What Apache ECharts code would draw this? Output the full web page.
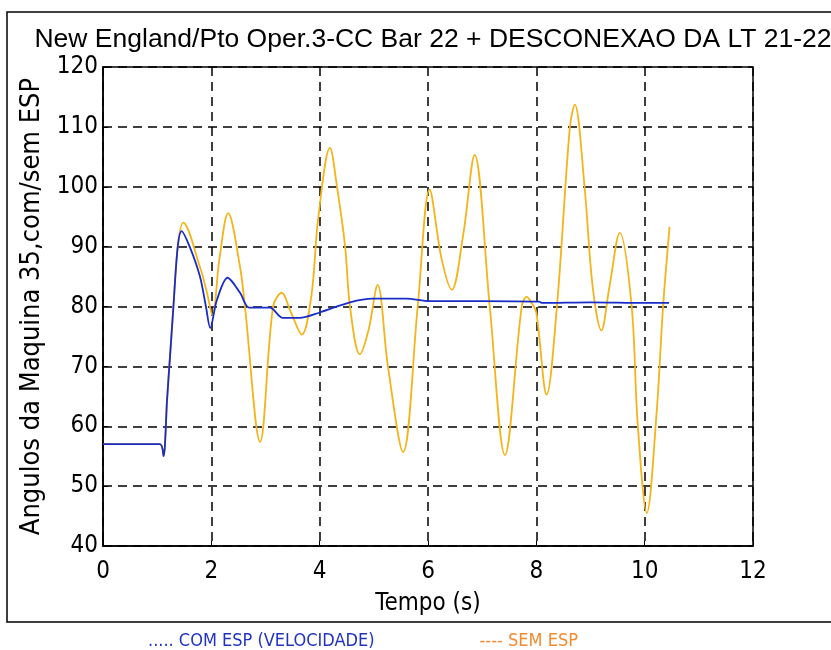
<!DOCTYPE html>
<html><head><meta charset="utf-8">
<script src="https://cdn.jsdelivr.net/npm/echarts@6/dist/echarts.min.js"></script>
<style>html,body{margin:0;padding:0;background:#fff}#c{width:831px;height:650px}</style>
</head><body><div id="c"></div>
<script>
const titleText = 'New England/Pto Oper.3-CC Bar 22 + DESCONEXAO DA LT 21-22';
const xName = 'Tempo (s)';
const yName = 'Angulos da Maquina 35,com/sem ESP';
const seriesNames = ['COM ESP (VELOCIDADE)', 'SEM ESP'];

const tCom = [0, 1.05, 1.12, 1.15, 1.18, 1.24, 1.3, 1.38, 1.45, 1.6, 1.79, 1.9, 1.98, 2.1, 2.3, 2.53, 2.7, 3.08, 3.32, 3.63, 4.0, 4.56, 4.98, 5.6, 6.03, 7.0, 8.05, 8.1, 9.0, 10.0, 10.45];
const vCom = [57, 57, 55, 58, 64, 72, 80, 90, 92.6, 90, 85, 80, 76.4, 81, 84.8, 82.3, 79.8, 79.8, 78.1, 78.1, 79, 80.7, 81.3, 81.3, 80.9, 80.9, 80.8, 80.6, 80.7, 80.6, 80.6];

const tSem = [0, 1.05, 1.12, 1.15, 1.18, 1.24, 1.3, 1.38, 1.48, 1.79, 1.92, 2.02, 2.15, 2.31, 2.53, 2.62, 2.9, 3.14, 3.3, 3.47, 3.67, 3.85, 3.97, 4.19, 4.32, 4.47, 4.56, 4.74, 4.9, 5.07, 5.26, 5.54, 5.81, 6.03, 6.25, 6.44, 6.65, 6.86, 7.14, 7.42, 7.73, 7.82, 7.92, 8.0, 8.19, 8.38, 8.62, 8.71, 8.89, 9.04, 9.2, 9.35, 9.54, 9.76, 9.87, 10.04, 10.22, 10.34, 10.46];
const vSem = [57, 57, 55, 58, 64, 72, 80, 90, 94, 86.6, 82.3, 78.5, 88, 95.6, 86.6, 80, 57.4, 80, 82.3, 79, 75.3, 82, 94.5, 106.5, 100, 90, 80, 72, 76, 83.6, 70, 55.7, 80, 99.5, 88, 82.8, 92, 105.3, 80, 55.2, 80, 81.6, 80.5, 79, 65.3, 80, 110, 113.7, 100, 83.3, 76, 83.3, 92.3, 80, 60.6, 45.5, 62.2, 80, 93.3];

const comData = tCom.map((t, i) => [t, vCom[i]]);
const semData = tSem.map((t, i) => [t, vSem[i]]);

const font = 'Liberation Sans, Arial, sans-serif';
const narrow = '"Liberation Sans Narrow", "Arial Narrow", "DejaVu Sans Condensed", sans-serif';
const chart = echarts.init(document.getElementById('c'), null, {renderer: 'canvas'});
chart.setOption({
  animation: false,
  backgroundColor: '#fff',
  title: {
    text: titleText, left: 428, top: 21, textAlign: 'center',
    textStyle: {fontFamily: font, fontSize: 26.5, fontWeight: 'normal', color: '#000'}
  },
  grid: {left: 103, top: 67, width: 650, height: 479, show: true, borderColor: '#000', borderWidth: 1.5, backgroundColor: '#fff'},
  legend: {
    left: 138, top: 627, itemGap: 100, itemWidth: 0, itemHeight: 0, icon: 'none',
    textStyle: {fontFamily: narrow, fontSize: 18},
    formatter: function (name) { return name === seriesNames[0] ? '..... ' + name : '---- ' + name; },
    data: [
      {name: seriesNames[0], textStyle: {color: '#2233c0'}},
      {name: seriesNames[1], textStyle: {color: '#f28a30'}}
    ]
  },
  xAxis: {
    type: 'value', min: 0, max: 12, interval: 2,
    name: xName, nameLocation: 'middle', nameGap: 46,
    nameTextStyle: {fontFamily: narrow, fontSize: 24, color: '#000'},
    axisLine: {show: true, lineStyle: {color: '#000', width: 1.5}},
    axisTick: {inside: true, length: 5, lineStyle: {color: '#000'}},
    axisLabel: {fontFamily: narrow, fontSize: 24, color: '#000', margin: 14},
    splitLine: {show: true, lineStyle: {color: '#000', type: [9, 6], width: 1.5}}
  },
  yAxis: {
    type: 'value', min: 40, max: 120, interval: 10,
    name: yName, nameLocation: 'middle', nameGap: 54, nameRotate: 90,
    nameTextStyle: {fontFamily: narrow, fontSize: 27, color: '#000'},
    axisLine: {show: true, lineStyle: {color: '#000', width: 1.5}},
    axisTick: {inside: true, length: 5, lineStyle: {color: '#000'}},
    axisLabel: {fontFamily: narrow, fontSize: 24, color: '#000', margin: 5},
    splitLine: {show: true, lineStyle: {color: '#000', type: [9, 6], width: 1.5}}
  },
  graphic: [{
    type: 'rect', shape: {x: 7, y: 12, width: 830, height: 610},
    style: {fill: 'none', stroke: '#000', lineWidth: 1.5}, silent: true, z: 100
  }],
  series: [
    {name: seriesNames[1], type: 'line', data: semData, smooth: 0.35, symbol: 'none',
     lineStyle: {color: '#f4b41c', width: 1.8}, itemStyle: {color: '#f4b41c'}, z: 2},
    {name: seriesNames[0], type: 'line', data: comData, smooth: 0.3, symbol: 'none',
     lineStyle: {color: '#1a2cc8', width: 1.8}, itemStyle: {color: '#1a2cc8'}, z: 3}
  ]
});
</script></body></html>
